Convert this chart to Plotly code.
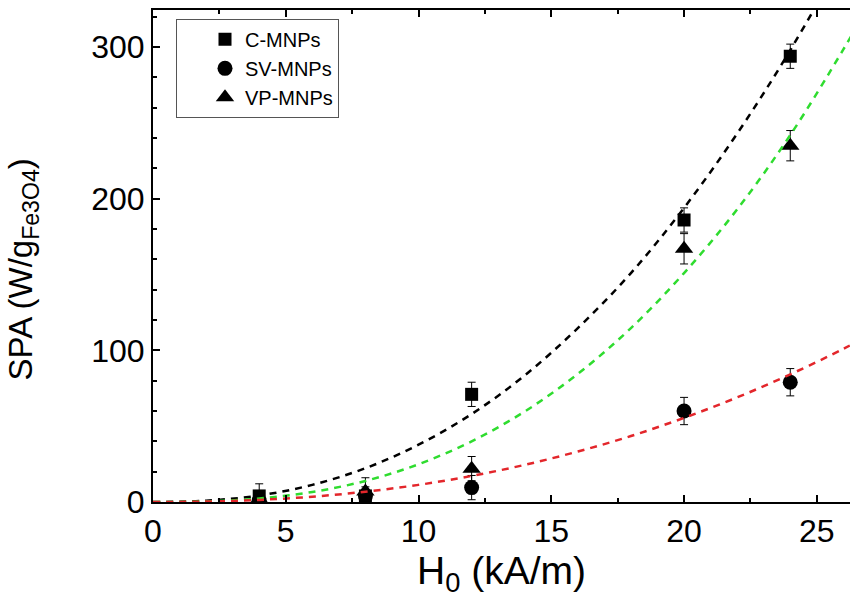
import plotly.graph_objects as go

# Measured specific power absorption vs. field amplitude
h_field = [4, 8, 12, 20, 24]

spa_c = [4, 4, 71, 186, 294]
err_c = [8, 6, 8, 8, 8]

spa_sv = [1, 4, 9.5, 60, 79]
err_sv = [4, 4, 8, 9, 9]

spa_vp = [2, 7, 22, 167, 235]
err_vp = [4, 9, 8, 10, 10]

# Fitted trend curves (dashed)
h_fit = [0, 2, 4, 6, 8, 10, 12, 14, 16, 18, 20, 22, 24, 26, 27]
fit_c = [0, 0.85, 4.3, 11.3, 22.3, 37.8, 58, 83.5, 114.7, 151, 194, 243, 298, 360, 394]
fit_vp = [0, 0.38, 2.3, 6.6, 13.9, 24.9, 40, 59.7, 84.5, 114.7, 151, 193, 242, 298.5, 329]
fit_sv = [0, 0.28, 1.4, 3.5, 6.8, 11.3, 17.2, 24.5, 33.3, 43.5, 55.5, 69, 84.2, 101, 110.4]

FONT = "Arial, Liberation Sans, Helvetica, sans-serif"

fig = go.Figure()

def err(vals):
    return dict(type="data", array=vals, visible=True, color="black",
                thickness=1, width=4)

fig.add_trace(go.Scatter(x=h_field, y=spa_c, mode="markers", name="C-MNPs",
                         marker=dict(symbol="square", size=13, color="black"),
                         error_y=err(err_c)))
fig.add_trace(go.Scatter(x=h_field, y=spa_sv, mode="markers", name="SV-MNPs",
                         marker=dict(symbol="circle", size=15, color="black"),
                         error_y=err(err_sv)))
fig.add_trace(go.Scatter(x=h_field, y=spa_vp, mode="markers", name="VP-MNPs",
                         marker=dict(symbol="triangle-up", size=16, color="black"),
                         error_y=err(err_vp)))

for yv, col in [(fit_c, "black"), (fit_vp, "#2fdc2f"), (fit_sv, "#e3262b")]:
    fig.add_trace(go.Scatter(x=h_fit, y=yv, mode="lines", showlegend=False,
                             hoverinfo="skip",
                             line=dict(color=col, width=2.5, dash="7px,6px",
                                       shape="spline")))

fig.update_layout(
    width=850, height=598,
    margin=dict(l=153, r=0, t=10, b=96),
    paper_bgcolor="white", plot_bgcolor="white",
    font=dict(family=FONT, color="black"),
    showlegend=True,
    legend=dict(x=0.033, y=0.982, xanchor="left", yanchor="top",
                bgcolor="white", bordercolor="#555", borderwidth=1,
                font=dict(size=20, family=FONT), indentation=28,
                itemclick=False),
    annotations=[dict(
        text="SPA (W/g<sub>Fe3O4</sub>)", textangle=-90,
        xref="paper", yref="paper", x=-0.187, y=0.472,
        xanchor="center", yanchor="middle", showarrow=False,
        font=dict(size=33, family=FONT, color="black"),
    )],
)

fig.update_xaxes(
    range=[0, 26.25], showgrid=False, zeroline=False,
    showline=True, linewidth=2, linecolor="black", mirror="ticks",
    ticks="inside", ticklen=7, tickwidth=1.5, tickcolor="black",
    dtick=5, tick0=0, tickfont=dict(size=32, family=FONT),
    minor=dict(ticks="inside", ticklen=4, dtick=2.5, tickcolor="black", tickwidth=1.5),
    title=dict(text="H<sub>0</sub> (kA/m)", font=dict(size=39, family=FONT), standoff=6),
)
fig.update_yaxes(
    range=[0, 324.5], showgrid=False, zeroline=False,
    showline=True, linewidth=2, linecolor="black",
    ticks="inside", ticklen=7, tickwidth=1.5, tickcolor="black",
    dtick=100, tick0=0, tickfont=dict(size=32, family=FONT),
    minor=dict(ticks="inside", ticklen=4, dtick=20, tickcolor="black", tickwidth=1.5),
)

fig.write_html("out.html")
